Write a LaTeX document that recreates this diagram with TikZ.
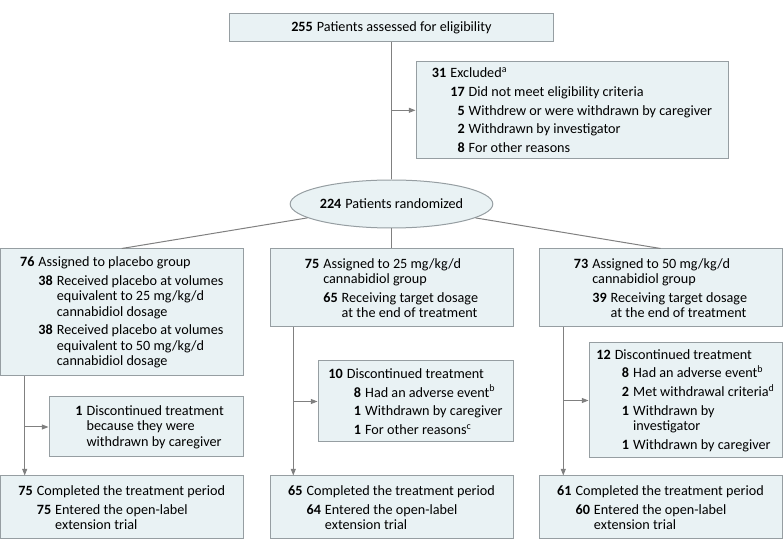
\documentclass[tikz,border=0pt]{standalone}
\usepackage{fontspec}
\setmainfont{Carlito}
\usepackage{tikz}
\usetikzlibrary{shapes.geometric,arrows.meta}

\definecolor{boxfill}{RGB}{233,242,244}
\definecolor{boxline}{RGB}{150,158,162}
\definecolor{linkgray}{RGB}{128,128,128}

\newlength\numw
\newlength\gapw
\newlength\refw
\newcommand{\nbox}[1]{\makebox[\numw][r]{\textbf{#1}}\hspace{\gapw}}
\newcommand{\indt}{\hspace*{\dimexpr\numw+\gapw\relax}}
\newcommand{\igap}{2.5pt}

\tikzset{
  flowbox/.style={draw=boxline, fill=boxfill, line width=0.75pt, align=left,
    inner sep=0pt, font=\fontsize{\fsz pt}{\fsk pt}\selectfont},
  boxsize/.style 2 args={minimum width=#1*0.75pt, minimum height=#2*0.75pt},
  link/.style={draw=linkgray, line width=0.75pt},
  arr/.style={link, -{Triangle[width=3.75pt,length=5pt]}, linkgray}
}

\begin{document}
% size the text so that one line is as wide as in the figure (182.5pt)
\settowidth\refw{\fontsize{10pt}{12pt}\selectfont Withdrew or were withdrawn by caregiver}
\pgfmathsetmacro\fsz{10*182.5/\refw}
\pgfmathsetmacro\fsk{11.5}
\settowidth\numw{\fontsize{\fsz pt}{\fsk pt}\selectfont\bfseries 00}
\setlength\gapw{0.3em}
\begin{tikzpicture}[x=0.75pt,y=0.75pt,yscale=-1,xscale=1]
\useasboundingbox (0,0) rectangle (783,552);

% Enrollment
\node[flowbox, boxsize={324}{28}] (assessed) at (391.5,27.3)
  {\textbf{255}\hspace{\gapw}Patients assessed for eligibility};
\node[flowbox, boxsize={312}{97}] (excluded) at (572,110.3)
  {\nbox{31}Excluded\textsuperscript{a}\\[\igap]
   \indt\nbox{17}Did not meet eligibility criteria\\[\igap]
   \indt\nbox{5}Withdrew or were withdrawn by caregiver\\[\igap]
   \indt\nbox{2}Withdrawn by investigator\\[\igap]
   \indt\nbox{8}For other reasons};
\node[flowbox, ellipse, boxsize={191}{48}] (random) at (391.5,204)
  {\textbf{224}\hspace{\gapw}Patients randomized};

% Allocation
\node[flowbox, boxsize={242.5}{127}] (placebo) at (121.75,312.5)
  {\nbox{76}Assigned to placebo group\\[\igap]
   \indt\nbox{38}Received placebo at volumes\\
   \indt\indt equivalent to 25 mg/kg/d\\
   \indt\indt cannabidiol dosage\\[\igap]
   \indt\nbox{38}Received placebo at volumes\\
   \indt\indt equivalent to 50 mg/kg/d\\
   \indt\indt cannabidiol dosage};
\node[flowbox, boxsize={243}{78}] (dose25) at (391.5,288)
  {\nbox{75}Assigned to 25 mg/kg/d\\
   \indt cannabidiol group\\[\igap]
   \indt\nbox{65}Receiving target dosage\\
   \indt\indt at the end of treatment};
\node[flowbox, boxsize={243}{78}] (dose50) at (660.5,288)
  {\nbox{73}Assigned to 50 mg/kg/d\\
   \indt cannabidiol group\\[\igap]
   \indt\nbox{39}Receiving target dosage\\
   \indt\indt at the end of treatment};

% Discontinued
\node[flowbox, boxsize={194}{60}] (stopplc) at (146,427)
  {\nbox{1}Discontinued treatment\\
   \indt because they were\\
   \indt withdrawn by caregiver};
\node[flowbox, boxsize={195}{81}] (stop25) at (415.5,401.5)
  {\nbox{10}Discontinued treatment\\[\igap]
   \indt\nbox{8}Had an adverse event\textsuperscript{b}\\[\igap]
   \indt\nbox{1}Withdrawn by caregiver\\[\igap]
   \indt\nbox{1}For other reasons\textsuperscript{c}};
\node[flowbox, boxsize={193}{115}] (stop50) at (685.5,400.5)
  {\nbox{12}Discontinued treatment\\[\igap]
   \indt\nbox{8}Had an adverse event\textsuperscript{b}\\[\igap]
   \indt\nbox{2}Met withdrawal criteria\textsuperscript{d}\\[\igap]
   \indt\nbox{1}Withdrawn by\\
   \indt\indt investigator\\[\igap]
   \indt\nbox{1}Withdrawn by caregiver};

% Completed
\node[flowbox, boxsize={242.5}{63}] (doneplc) at (121.75,507.5)
  {\nbox{75}Completed the treatment period\\[\igap]
   \indt\nbox{75}Entered the open-label\\
   \indt\indt extension trial};
\node[flowbox, boxsize={243}{63}] (done25) at (391.5,507.5)
  {\nbox{65}Completed the treatment period\\[\igap]
   \indt\nbox{64}Entered the open-label\\
   \indt\indt extension trial};
\node[flowbox, boxsize={243}{63}] (done50) at (660.5,507.5)
  {\nbox{61}Completed the treatment period\\[\igap]
   \indt\nbox{60}Entered the open-label\\
   \indt\indt extension trial};

% Connectors
\draw[link] (assessed) -- (random);
\draw[arr] (assessed.south |- excluded.west) -- (excluded.west);
\draw[link] (random) -- (placebo.north);
\draw[link] (random) -- (dose25);
\draw[link] (random) -- (dose50.north);

\coordinate (xplc) at (24.7,0);
\coordinate (x25) at (293.3,0);
\coordinate (x50) at (563.3,0);
\draw[arr] (xplc |- placebo.south) -- (xplc |- doneplc.north);
\draw[arr] (xplc |- stopplc.west) -- (stopplc.west);
\draw[arr] (x25 |- dose25.south) -- (x25 |- done25.north);
\draw[arr] (x25 |- stop25.west) -- (stop25.west);
\draw[arr] (x50 |- dose50.south) -- (x50 |- done50.north);
\draw[arr] (x50 |- stop50.west) -- (stop50.west);

\end{tikzpicture}
\end{document}
